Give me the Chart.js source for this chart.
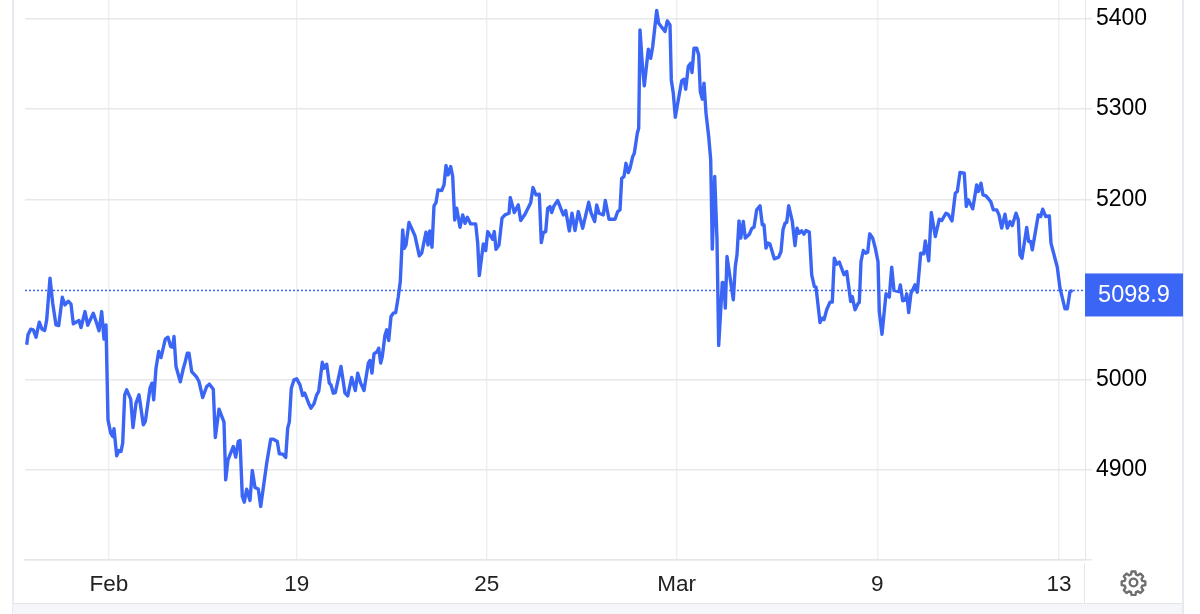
<!DOCTYPE html>
<html>
<head>
<meta charset="utf-8">
<title>5098.9</title>
<script src="https://cdn.jsdelivr.net/npm/chart.js@4/dist/chart.umd.min.js"></script>
<style>
  html, body { margin: 0; padding: 0; background: #fff; }
  #wrap { position: relative; width: 1200px; height: 614px; overflow: hidden; }
  #myLineChart { position: absolute; left: 0; top: 0; }
  .frameLeft { position: absolute; left: 12px; top: 0; width: 1.5px; height: 614px; background: #e8eaf1; }
  .frameRight { position: absolute; left: 1182px; top: 0; width: 1.5px; height: 614px; background: #e8eaf1; }
  .footer { position: absolute; left: 13px; top: 603px; width: 1169px; height: 11px; background: #f5f6fa; border-top: 1px solid #e6e6e6; }
  .axisStub { position: absolute; left: 1084px; top: 563px; width: 1px; height: 40px; background: #e6e6e6; }
  #gear { position: absolute; left: 1120px; top: 569px; width: 27px; height: 27px; }
</style>
</head>
<body>
<div id="wrap">
  <div class="frameLeft"></div>
  <div class="frameRight"></div>
  <div class="footer"></div>
  <div class="axisStub"></div>
  <canvas id="myLineChart" width="1200" height="614"></canvas>
  <svg id="gear" viewBox="0 0 24 24" fill="none" stroke="#6e6e6e" stroke-width="2.1" stroke-linejoin="round">
    <circle cx="12" cy="12" r="3.4"></circle>
    <path d="M10.3 2.2h3.4l.5 2.7 1.7.7 2.3-1.5 2.4 2.4-1.5 2.3.7 1.7 2.7.5v3.4l-2.7.5-.7 1.7 1.5 2.3-2.4 2.4-2.3-1.5-1.7.7-.5 2.7h-3.4l-.5-2.7-1.7-.7-2.3 1.5-2.4-2.4 1.5-2.3-.7-1.7-2.7-.5v-3.4l2.7-.5.7-1.7-1.5-2.3 2.4-2.4 2.3 1.5 1.7-.7z"></path>
  </svg>
</div>
<script>
// elapsed time of each reading, in quarter hours from the start of the window
const times = [
  1.7, 3, 5.7, 8.3, 11, 14.3, 17, 19.7, 21.7, 25, 27.7, 31, 33.7, 37.3, 40, 43.3, 46, 48.3, 54, 56,
  60, 62.7, 68.3, 71.7, 74, 76.7, 79, 81, 83, 85.7, 87.7, 89, 91.7, 94, 96, 97.7, 99.7, 101.7, 105.7, 108,
  111, 114, 118.3, 120.3, 125, 127, 128.7, 131, 133.7, 136, 140.3, 143, 145.7, 147.7, 149, 151, 155.3, 158, 160.3, 162.3,
  164, 166.7, 171.7, 174, 177.7, 181.7, 184.3, 188.3, 190.3, 194, 199, 200.7, 203, 208.3, 210.7, 213.3, 215, 217.3, 219.3, 221.7,
  225, 227.3, 230, 233.3, 235.7, 241.7, 245.7, 248.3, 252.3, 254.3, 257.7, 260.7, 262.7, 264.3, 266.3, 269, 271.7,
  275, 277.7, 279.7, 284.3, 286, 289, 291.7, 293.7, 297.3, 299, 301.7, 304.3, 306, 308.3, 310.3, 316, 320, 322.7, 326.7, 330.3,
  332.7, 335.7, 339, 343.3, 345, 347, 349, 352.3, 353.7, 355.7, 357.3, 360, 361.7, 363.7, 366, 368.3, 370.7, 373.3, 375.3, 377.7,
  379.3, 381, 384, 390, 394.3, 396.7, 401, 403, 404.7, 407, 409, 411, 413, 416.7, 419, 421, 423, 425.7, 427.7, 429.7,
  431.7, 435, 437.7, 440, 442.3, 445.7, 450.7, 452.7, 454.3, 458.3, 460.7, 462.7, 467.7, 469.3, 471, 474, 477, 480, 484, 485.3,
  489.3, 493.3, 495.7, 500, 505.7, 508, 511, 514.3, 516.3, 518.3, 520.7, 522.7, 525, 526.7, 529, 532.7, 538.3, 540.7, 544.3, 547,
  550, 553.3, 557.7, 563.7, 566, 569.7, 571.7, 574, 578.3, 580.3, 584, 590, 592.7, 595, 596.7, 599, 601, 603.3, 605, 607.7,
  609.3, 612.3, 613.7, 615, 617.7, 619.3, 623.3, 625.7, 627.7, 631.7, 633.7, 640, 642.3, 645, 646.3, 648.3, 650.3, 653.3, 656.7, 659,
  660.7, 663.3, 665.7, 667, 669, 671.7, 673.7, 675.3, 677.3, 679, 681, 683.7, 685.7, 687.3, 689.7, 692, 693.7, 697.3, 699, 700.3,
  702, 708.3, 710.3, 712, 714, 715.7, 718.3, 720.3, 724.3, 727, 729, 731.7, 735, 737.3, 739, 741, 743, 745, 749.3, 753.7,
  756, 758, 760, 761.7, 763.7, 767.3, 770, 772, 774, 776.7, 779, 781, 784.3, 786.7, 789.3, 791, 795, 797, 799, 801.7,
  805, 807.3, 809.3, 811.7, 814.3, 819, 821.7, 825.7, 827.3, 830, 833.3, 834.3, 836, 838.3, 840.7, 842.7, 844.7, 847.7, 850.3, 853,
  854.3, 857, 861, 864.3, 866.7, 869, 874, 875.3, 877.7, 880.3, 881.7, 883.7, 886, 890, 892.3, 895.7, 898.7, 900.3, 903.7, 906.3,
  910.3, 914.3, 916.7, 921, 923, 927, 930.3, 932.3, 935, 939.3, 941.3, 943.3, 947.7, 951.7, 953.3, 956, 958, 961, 965.7, 968.3,
  971.7, 974, 976.7, 980, 982.3, 985, 987.3, 991, 993.3, 995, 997, 1001.7, 1003.7, 1005.7, 1007.3, 1013.3, 1015.7, 1017.7, 1020.7, 1024.3,
  1026, 1032.3, 1035, 1040, 1042.3, 1045, 1047.7
];
const prices = [
  5038.6, 5049.7, 5056, 5055.2, 5047, 5063.7, 5056, 5054.5, 5066.3, 5112.5, 5084.8, 5060.7, 5060, 5091.4, 5082.9, 5087, 5083.7, 5061.9, 5065.6, 5057.8,
  5075.5, 5060.4, 5073.7, 5062.6, 5054.1, 5075.5, 5044.9, 5060.7, 4955.4, 4940.7, 4937, 4945.5, 4915.5, 4921.4, 4920.3, 4929.6, 4983.2, 4988.7, 4978.4, 4946.9,
  4974, 4983.2, 4949.9, 4953.6, 4990.5, 4996.1, 4977.6, 5012.7, 5031.2, 5024.5, 5044.9, 5047.1, 5036.7, 5036, 5047.8, 5014.6, 4997.6, 5010.9, 5020.1, 5029.3,
  5029.3, 5009, 5002.7, 4997.9, 4980.2, 4992.4, 4995, 4989.4, 4935.9, 4967.3, 4952.9, 4888.9, 4911.1, 4925.9, 4914.1, 4931.4, 4932.5, 4870.5, 4864.2, 4878.6,
  4866, 4899.3, 4880.4, 4878.6, 4859.4, 4907.4, 4934, 4934, 4931.4, 4917.8, 4917.4, 4913.7, 4946.2, 4952.9, 4990.5, 4999.8, 5000.9,
  4994.2, 4982.4, 4985, 4972, 4968.4, 4973.2, 4983.2, 4986.9, 5019.3, 5012.7, 5017.1, 4996.1, 4994.2, 4985, 4985.7, 5014.6, 4985, 4982, 5002.4, 4987.9,
  5007.2, 4996.1, 4987.9, 5018.3, 5021.2, 5007.2, 5028.6, 5031.2, 5034.9, 5018.3, 5025.6, 5049.6, 5055.2, 5043.4, 5070, 5073.7, 5074.4, 5092.1, 5108.8, 5166,
  5145.7, 5149.4, 5174.2, 5159.4, 5137.2, 5140.2, 5163.5, 5149.4, 5165, 5146.8, 5192.7, 5196.3, 5210.4, 5209.6, 5215.9, 5237.4, 5227, 5236.3, 5225.2, 5177.1,
  5190.1, 5169, 5182.7, 5173.4, 5180.1, 5172.7, 5172.7, 5151.3, 5115.4, 5150.5, 5143.1, 5164.2, 5155.7, 5164.2, 5144.6, 5149.4, 5179, 5182.7, 5184.5, 5201.9,
  5185.3, 5193.8, 5176.4, 5183.4, 5196.3, 5213, 5204.8, 5205.6, 5152, 5163.1, 5164.2, 5190, 5191.9, 5185.3, 5192.7, 5198.6, 5182.7, 5187.5, 5164.9, 5184.5,
  5165.3, 5186.4, 5167.9, 5196.7, 5185.3, 5175.3, 5193.8, 5184.5, 5182.7, 5198.6, 5177.9, 5177.9, 5186.4, 5188.2, 5223.3, 5225.2, 5239.9, 5229.6, 5234.4, 5247.3,
  5251, 5273.2, 5278.8, 5387.8, 5343.5, 5325.8, 5366.4, 5356.4, 5369.4, 5409.3, 5395.2, 5386, 5397.8, 5393.4, 5332.4, 5317.6, 5291, 5310.2, 5331.3, 5333.2,
  5322.1, 5347.2, 5350.9, 5340.5, 5367.5, 5367.5, 5360.1, 5319.5, 5311, 5328.7, 5295.5, 5269.6, 5243.7, 5144.7, 5225.3, 5155.1, 5037.9, 5107.8, 5107, 5079.3,
  5136.6, 5088.5, 5125.5, 5138.4, 5176.1, 5156.9, 5175.4, 5156.9, 5161.3, 5168, 5169.1, 5188.3, 5192.8, 5171.7, 5171.7, 5145.8, 5151.4, 5150.3, 5134, 5135.9,
  5142.1, 5166.1, 5173.5, 5174.3, 5192.8, 5175.4, 5148.8, 5168, 5162.4, 5165, 5161.3, 5165.4, 5163.6, 5116.3, 5103.3, 5102.6, 5063.4, 5068.2, 5066.4, 5077.5,
  5086, 5086, 5134.7, 5128.1, 5130.3, 5116.3, 5120, 5086.7, 5092.2, 5077.5, 5084.9, 5085.6, 5131, 5143.2, 5140.2, 5141.3, 5161.7, 5156.9, 5145.8, 5131,
  5075.6, 5050.4, 5095.2, 5091.5, 5124.7, 5098.9, 5097.7, 5105.1, 5087.4, 5088.5, 5095.2, 5074.5, 5095.9, 5105.1, 5097, 5140.2, 5139.5, 5153.9, 5131.7, 5185.3,
  5158.7, 5177.9, 5176.4, 5184.6, 5183.5, 5176.1, 5206.7, 5208.6, 5229.7, 5228.9, 5192, 5199.4, 5189.4, 5216, 5208.6, 5217.8, 5204.9, 5203.8, 5197.5, 5188.3,
  5188.3, 5182.7, 5168, 5183.5, 5168, 5175.3, 5170.9, 5184.6, 5177.2, 5138.4, 5134.7, 5168.7, 5153.2, 5153.2, 5143.9, 5182.7, 5180.9, 5189, 5180.9, 5181.6,
  5151.3, 5124.7, 5101.4, 5078.5, 5078.5, 5097.7, 5098.9
];
const xTickTimes = [84, 271.7, 461.7, 651.7, 852.3, 1034];
const xTickLabels = ["Feb", "19", "25", "Mar", "9", "13"];
const yTickValues = [4800, 4900, 5000, 5200, 5300, 5400];
const lastPrice = 5098.9;
const xStart = 0;
const xEnd = 1060;

const blue = "#3b66f5";
const fontName = "'Liberation Sans', Arial, sans-serif";

// the blue box with the last price, sits on the right axis
const lastPriceBox = {
  id: "lastPriceBox",
  afterDraw(chart) {
    const c = chart.ctx;
    const y = chart.scales.y.getPixelForValue(lastPrice);
    c.save();
    c.fillStyle = blue;
    c.fillRect(1085, y - 17, 98, 43);
    c.fillStyle = "#fff";
    c.font = "23.5px " + fontName;
    c.textAlign = "center";
    c.textBaseline = "middle";
    c.fillText(lastPrice.toFixed(1), 1134, y + 5);
    c.restore();
  },
};

const ctx = document.getElementById("myLineChart");
const myChart = new Chart(ctx, {
  type: "line",
  data: {
    datasets: [
      {
        label: "Last",
        data: [
          { x: xStart, y: lastPrice },
          { x: xEnd, y: lastPrice },
        ],
        borderColor: blue,
        borderWidth: 1.5,
        borderDash: [2, 2],
        pointRadius: 0,
        order: 2,
      },
      {
        label: "Price",
        data: times.map((t, i) => ({ x: t, y: prices[i] })),
        borderColor: blue,
        borderWidth: 3.4,
        borderJoinStyle: "round",
        pointRadius: 0,
        tension: 0,
        fill: false,
        order: 1,
      },
    ],
  },
  options: {
    responsive: false,
    animation: false,
    layout: { padding: { left: 25, right: 0, top: 0, bottom: 0 } },
    plugins: {
      legend: { display: false },
      tooltip: { enabled: false },
    },
    scales: {
      x: {
        type: "linear",
        min: xStart,
        max: xEnd,
        afterBuildTicks: (scale) => {
          scale.ticks = xTickTimes.map((v) => ({ value: v }));
        },
        afterFit: (scale) => {
          scale.height = 54;
          scale.paddingLeft = 0;
          scale.paddingRight = 0;
        },
        grid: { color: "#edf1f5", lineWidth: 1.5, drawTicks: false },
        border: { color: "#e6e6e6", width: 1.5 },
        ticks: {
          color: "#222",
          font: { family: fontName, size: 22.5 },
          padding: 11,
          maxRotation: 0,
          autoSkip: false,
          callback: (v) => xTickLabels[xTickTimes.indexOf(v)],
        },
      },
      y: {
        position: "right",
        min: 4800,
        max: 5421,
        afterBuildTicks: (scale) => {
          scale.ticks = yTickValues.map((v) => ({ value: v }));
        },
        afterFit: (scale) => {
          scale.width = 115;
          scale.paddingTop = 0;
          scale.paddingBottom = 0;
        },
        grid: { color: "#e8e8e8", lineWidth: 1.5, tickLength: 7, tickColor: "#e8e8e8" },
        border: { color: "#e6e6e6", width: 1 },
        ticks: {
          color: "#000",
          font: { family: fontName, size: 23 },
          padding: 4,
          callback: (v) => (v === 4800 ? "" : String(v)),
        },
      },
    },
  },
  plugins: [lastPriceBox],
});
</script>
</body>
</html>
